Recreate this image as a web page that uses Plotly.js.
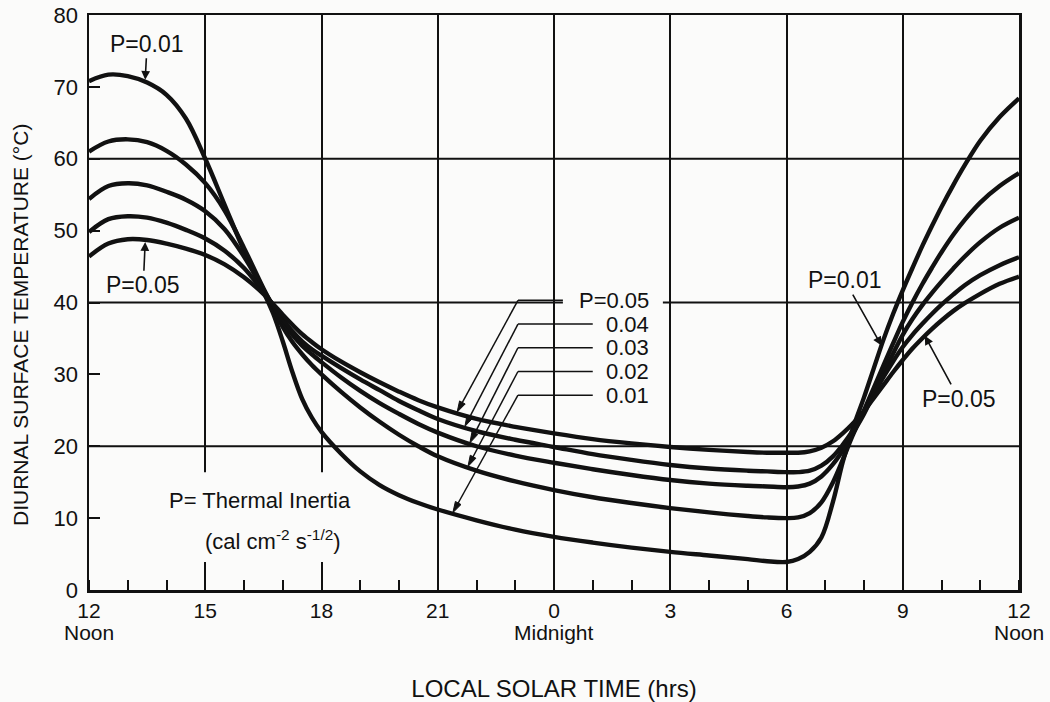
<!DOCTYPE html>
<html>
<head>
<meta charset="utf-8">
<script src="https://cdn.plot.ly/plotly-3.0.1.min.js"></script>
<style>
  html, body { margin: 0; padding: 0; background: #fbfbfa; }
  #chart { width: 1050px; height: 702px; }
</style>
</head>
<body>
<div id="chart"></div>
<script>
// Local solar time in hours (12 = noon, 24 = midnight, 36 = next noon)
const hours = [12, 12.5, 13, 13.5, 14, 14.5, 15, 15.5, 16, 16.5, 16.75, 17, 17.25, 17.5, 17.75, 18, 18.5, 19, 19.5, 20, 20.5, 21, 22, 23, 24, 25, 26, 27, 28, 29, 29.5, 30, 30.3, 30.6, 30.9, 31.2, 31.45, 31.7, 32, 32.25, 32.5, 32.75, 33, 33.25, 33.5, 33.75, 34, 34.3, 34.6, 35, 35.5, 36];

// Diurnal surface temperature (deg C) for each thermal inertia P
const tempP001 = [70.8, 71.7, 71.5, 70.6, 68.9, 65.6, 60.0, 53.6, 47.2, 41.5, 38.5, 34.6, 30.3, 26.6, 24.0, 22.0, 19.0, 16.5, 14.6, 13.2, 12.1, 11.2, 9.7, 8.4, 7.4, 6.6, 5.9, 5.3, 4.8, 4.3, 4.0, 3.9, 4.3, 5.3, 7.3, 12.3, 17.8, 22.3, 26.8, 30.8, 34.8, 38.4, 41.7, 44.8, 47.8, 50.6, 53.3, 56.3, 59.1, 62.5, 65.8, 68.4];
const tempP002 = [61.0, 62.4, 62.7, 62.3, 61.1, 59.2, 56.6, 52.8, 47.6, 42.0, 39.4, 36.6, 34.5, 32.8, 31.3, 30.0, 27.6, 25.4, 23.4, 21.6, 20.0, 18.6, 16.6, 15.1, 13.9, 12.9, 12.1, 11.4, 10.8, 10.3, 10.1, 10.0, 10.1, 10.7, 12.2, 15.0, 18.1, 21.4, 25.0, 28.1, 31.2, 34.3, 37.3, 40.0, 42.5, 44.8, 47.0, 49.4, 51.5, 53.9, 56.2, 58.0];
const tempP003 = [54.4, 56.2, 56.6, 56.3, 55.4, 54.3, 52.7, 50.2, 46.4, 41.8, 39.5, 37.3, 35.5, 34.0, 32.8, 31.7, 29.6, 27.7, 26.0, 24.5, 23.1, 21.9, 20.0, 18.7, 17.7, 16.8, 16.0, 15.3, 14.8, 14.5, 14.4, 14.3, 14.4, 14.8, 15.8, 17.5, 19.4, 21.7, 24.5, 27.3, 30.1, 32.9, 35.5, 37.7, 39.6, 41.3, 42.9, 44.7, 46.4, 48.4, 50.4, 51.8];
const tempP004 = [49.8, 51.6, 52.0, 51.8, 51.1, 50.1, 48.9, 47.2, 44.8, 41.5, 39.6, 37.7, 36.0, 34.6, 33.5, 32.6, 30.9, 29.3, 27.8, 26.3, 25.0, 23.8, 22.1, 20.9, 19.9, 18.9, 18.1, 17.4, 16.9, 16.6, 16.5, 16.4, 16.4, 16.6, 17.3, 18.6, 20.2, 22.1, 24.7, 27.2, 29.6, 31.8, 33.8, 35.5, 37.0, 38.4, 39.7, 41.1, 42.4, 43.8, 45.2, 46.3];
const tempP005 = [46.4, 48.2, 48.8, 48.7, 48.2, 47.5, 46.6, 45.3, 43.5, 41.2, 39.8, 38.3, 36.9, 35.6, 34.5, 33.5, 31.8, 30.3, 28.9, 27.6, 26.4, 25.4, 23.8, 22.7, 21.8, 21.0, 20.4, 19.9, 19.5, 19.2, 19.1, 19.1, 19.1, 19.3, 19.8, 20.7, 21.8, 23.1, 24.9, 26.7, 28.5, 30.3, 32.0, 33.6, 35.0, 36.3, 37.5, 38.8, 39.9, 41.2, 42.6, 43.6];

const seriesNames = ['P = 0.01', 'P = 0.02', 'P = 0.03', 'P = 0.04', 'P = 0.05'];
const seriesTemps = [tempP001, tempP002, tempP003, tempP004, tempP005];

const xTickVals = [12, 15, 18, 21, 24, 27, 30, 33, 36];
const xTickText = ['12', '15', '18', '21', '0', '3', '6', '9', '12'];
const xSubLabelVals = [12, 24, 36];
const xSubLabelText = ['Noon', 'Midnight', 'Noon'];
const yTickVals = [0, 10, 20, 30, 40, 50, 60, 70, 80];
const yGridVals = [20, 40, 60];
const centerLabels = ['P=0.05', '0.04', '0.03', '0.02', '0.01'];

// ---------- styling ----------
const INK = '#111111';
const BG = '#fbfbfa';
const FONT = 'Liberation Sans, Arial, sans-serif';
const W = 1050, H = 702;
const M = { l: 89, r: 31, t: 15, b: 112 };
const X0 = 12, X1 = 36, Y0 = 0, Y1 = 80;
const PW = W - M.l - M.r, PH = H - M.t - M.b;
const sx = PW / (X1 - X0);   // px per hour
const sy = PH / (Y1 - Y0);   // px per degree

function interp(xs, ys, x) {
  for (let i = 1; i < xs.length; i++) {
    if (x <= xs[i]) {
      const t = (x - xs[i - 1]) / (xs[i] - xs[i - 1]);
      return ys[i - 1] + t * (ys[i] - ys[i - 1]);
    }
  }
  return ys[ys.length - 1];
}

const traces = seriesTemps.map((temps, i) => ({
  type: 'scatter',
  mode: 'lines',
  name: seriesNames[i],
  x: hours,
  y: temps,
  line: { color: INK, width: 4.4, shape: 'spline', smoothing: 1.0 },
  hoverinfo: 'skip'
}));

const shapes = [];
// horizontal grid lines every 20 deg
yGridVals.forEach(v => shapes.push({
  type: 'line', xref: 'paper', yref: 'y', x0: 0, x1: 1, y0: v, y1: v,
  line: { color: INK, width: 2 }, layer: 'below'
}));
// blank patch behind the "Thermal Inertia" note (grid lines are broken there)
shapes.push({
  type: 'rect', xref: 'x', yref: 'y', x0: 14.5, x1: 18.5, y0: 3.9, y1: 16.4,
  fillcolor: BG, line: { width: 0 }, layer: 'between'
});
// gap in the 40 grid line behind the centre "P=0.05" label
shapes.push({
  type: 'rect', xref: 'x', yref: 'y', x0: 24.23, x1: 26.81, y0: 39.4, y1: 41.3,
  fillcolor: BG, line: { width: 0 }, layer: 'between'
});

// leader line with an arrowhead (drawn as shapes)
function leader(bx, by, hx, hy) {
  const px = (x) => x * sx, py = (y) => y * sy;
  const dx = px(hx) - px(bx), dy = py(hy) - py(by);
  const len = Math.hypot(dx, dy);
  const ux = dx / len, uy = dy / len;
  const L = 11, Wd = 3.2;
  const baseX = px(hx) - ux * L, baseY = py(hy) - uy * L;
  const p1 = [(baseX - uy * Wd) / sx, (baseY + ux * Wd) / sy];
  const p2 = [(baseX + uy * Wd) / sx, (baseY - ux * Wd) / sy];
  shapes.push({
    type: 'line', xref: 'x', yref: 'y', x0: bx, y0: by,
    x1: (baseX + ux * 2) / sx, y1: (baseY + uy * 2) / sy,
    line: { color: INK, width: 1.5 }, layer: 'above'
  });
  shapes.push({
    type: 'path', xref: 'x', yref: 'y',
    path: `M ${hx},${hy} L ${p1[0]},${p1[1]} L ${p2[0]},${p2[1]} Z`,
    fillcolor: INK, line: { color: INK, width: 1 }, layer: 'above'
  });
}

const annotations = [];
const lblFont = { family: FONT, size: 23, color: INK };
const arrowStyle = { showarrow: true, arrowhead: 2, arrowsize: 1.1, arrowwidth: 1.6, arrowcolor: INK, standoff: 0 };

// top-left labels
annotations.push(Object.assign({
  xref: 'x', yref: 'y', axref: 'x', ayref: 'y',
  x: 13.45, y: interp(hours, tempP001, 13.45) + 0.3, ax: 13.5, ay: 76.0,
  text: 'P=0.01', font: lblFont
}, arrowStyle));
annotations.push(Object.assign({
  xref: 'x', yref: 'y', axref: 'x', ayref: 'y',
  x: 13.45, y: interp(hours, tempP005, 13.45) - 0.3, ax: 13.4, ay: 42.4,
  text: 'P=0.05', font: lblFont
}, arrowStyle));

// right side labels
annotations.push(Object.assign({
  xref: 'x', yref: 'y', axref: 'x', ayref: 'y',
  x: 32.45, y: interp(hours, tempP001, 32.45), ax: 31.5, ay: 43.1,
  text: 'P=0.01', font: lblFont
}, arrowStyle));
annotations.push(Object.assign({
  xref: 'x', yref: 'y', axref: 'x', ayref: 'y',
  x: 33.57, y: interp(hours, tempP005, 33.57), ax: 34.45, ay: 26.6,
  text: 'P=0.05', font: lblFont
}, arrowStyle));

// centre leader labels (right aligned block)
const labelY = [40.3, 37.0, 33.7, 30.4, 27.1];
const headX = [21.5, 21.7, 21.83, 21.78, 21.39];
const bendX = 23.07;
centerLabels.forEach((txt, i) => {
  const sIdx = 4 - i;
  const first = i === 0;
  annotations.push({
    xref: 'x', yref: 'y', x: 26.48, y: labelY[i],
    xanchor: 'right', yanchor: 'middle', text: txt,
    font: { family: FONT, size: 22, color: INK },
    showarrow: false, borderpad: 0
  });
  shapes.push({
    type: 'line', xref: 'x', yref: 'y', x0: bendX, x1: first ? 24.23 : 25.0,
    y0: labelY[i], y1: labelY[i], line: { color: INK, width: 1.5 }, layer: 'above'
  });
  leader(bendX, labelY[i], headX[i], interp(hours, seriesTemps[sIdx], headX[i]) + 0.15);
});

// thermal inertia note
annotations.push({
  xref: 'x', yref: 'y', x: 16.41, y: 12.5, text: 'P= Thermal Inertia',
  font: { family: FONT, size: 22, color: INK }, showarrow: false
});
annotations.push({
  xref: 'x', yref: 'y', x: 16.75, y: 7.0, text: '(cal cm<sup>-2</sup> s<sup>-1/2</sup>)',
  font: { family: FONT, size: 22, color: INK }, showarrow: false
});

// second line under selected hour labels
xSubLabelVals.forEach((v, i) => annotations.push({
  xref: 'x', yref: 'paper', x: v, y: -(632 - (H - M.b)) / PH,
  xanchor: 'center', yanchor: 'middle', showarrow: false,
  text: xSubLabelText[i], font: { family: FONT, size: 21, color: INK }
}));

// y axis title (placed as rotated text so it sits where the original has it)
annotations.push({
  xref: 'paper', yref: 'paper', x: (20 - M.l) / PW, y: (H - M.b - 325) / PH,
  xanchor: 'center', yanchor: 'middle', textangle: -90, showarrow: false,
  text: 'DIURNAL SURFACE TEMPERATURE (°C)', font: { family: FONT, size: 21, color: INK }
});

const layout = {
  width: W, height: H,
  margin: M,
  paper_bgcolor: BG, plot_bgcolor: BG,
  showlegend: false,
  font: { family: FONT, color: INK },
  xaxis: {
    range: [X0, X1], tickmode: 'array', tickvals: xTickVals, ticktext: xTickText,
    showgrid: true, gridcolor: INK, gridwidth: 2,
    showline: true, mirror: true, linecolor: INK, linewidth: 2.5,
    ticks: '', zeroline: false,
    tickfont: { family: FONT, size: 21, color: INK },
    ticklabelstandoff: 0,
    minor: { dtick: 1, tick0: 12, ticks: 'inside', ticklen: 10, tickwidth: 2, tickcolor: INK, showgrid: false },
    title: { text: 'LOCAL SOLAR TIME (hrs)', font: { family: FONT, size: 24, color: INK }, standoff: 60 }
  },
  yaxis: {
    range: [Y0, Y1], tickmode: 'array', tickvals: yTickVals,
    showgrid: false, zeroline: false,
    showline: true, mirror: true, linecolor: INK, linewidth: 2.5,
    ticks: 'inside', ticklen: 11, tickwidth: 2, tickcolor: INK,
    tickfont: { family: FONT, size: 22, color: INK },
    ticklabelstandoff: 4
  },
  shapes: shapes,
  annotations: annotations
};

Plotly.newPlot('chart', traces, layout, { displayModeBar: false, staticPlot: true }).then(gd => {
  // drop empty placeholder text nodes left by the library
  gd.querySelectorAll('text').forEach(t => {
    if (!t.textContent || !t.textContent.trim()) t.remove();
  });
});
</script>
</body>
</html>
